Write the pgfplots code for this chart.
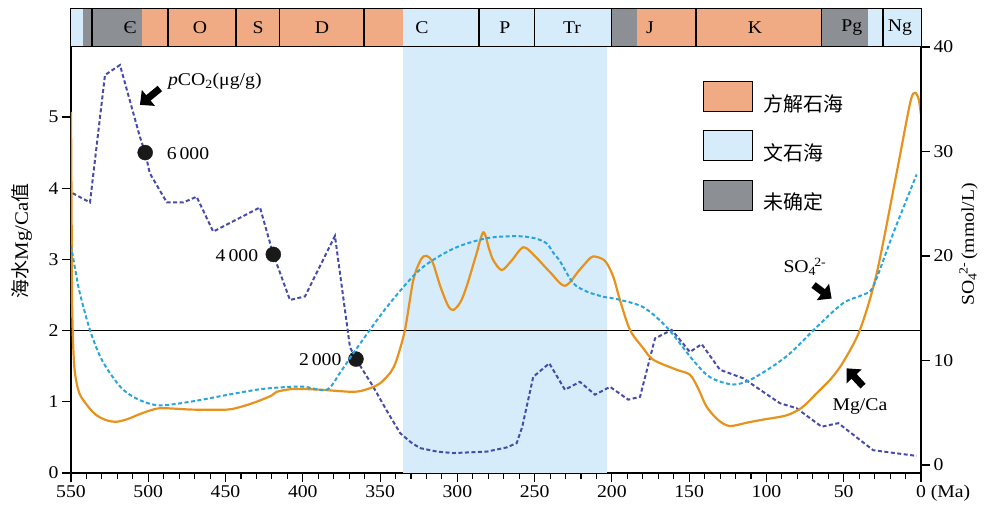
\documentclass[border=0pt]{standalone}
\usepackage{fontspec}
\setmainfont{Liberation Serif}[FakeStretch=1.1]
\newfontfamily\cjk{Noto Sans CJK SC}
\usepackage{pgfplots}
\pgfplotsset{compat=1.18}
\usetikzlibrary{arrows.meta}

\definecolor{calc}{RGB}{240,170,132}
\definecolor{arag}{RGB}{214,236,251}
\definecolor{undet}{RGB}{140,143,147}
\definecolor{mgca}{RGB}{232,146,30}
\definecolor{so4}{RGB}{40,165,220}
\definecolor{pco}{RGB}{72,76,168}
\newcommand{\tf}{\fontsize{18}{20}\selectfont}

\pgfplotsset{boxleg/.style={legend image code/.code={\draw[##1, draw=black, line width=1.2bp] (0bp,-8bp) rectangle (49bp,22bp);}}}

\pgfplotstableread{
t v
550 5.07
549.6 3.6
549.3 2.4
548.5 1.75
547.4 1.40
544.6 1.12
538.8 0.93
533.4 0.81
526.9 0.74
520.4 0.72
513 0.76
507.5 0.81
500 0.87
492.4 0.91
480 0.90
470.9 0.89
449.3 0.89
440 0.93
430 1.00
420 1.09
416.9 1.14
406.2 1.18
388.9 1.17
367.3 1.14
358 1.18
350 1.26
343 1.42
339.3 1.59
333.9 2.01
328.5 2.71
323.5 3.0
319.9 3.05
316 2.96
311 2.62
306 2.35
302.6 2.29
298 2.40
294 2.62
288 3.05
283.2 3.38
279.5 3.15
276.8 2.99
271.3 2.85
265 2.98
257.3 3.17
250 3.05
240 2.82
230.4 2.63
221 2.85
214 3.02
210.9 3.04
206.5 3.01
203.4 2.95
199 2.75
194.8 2.43
188.3 2.01
180 1.76
173.2 1.59
158.1 1.45
149.5 1.38
144 1.18
138.7 0.93
131 0.74
123.6 0.66
112 0.71
102.1 0.75
87 0.81
77 0.92
67.5 1.12
58 1.33
50.3 1.56
39.5 2.01
28.7 2.80
15.8 4.21
7 5.2
3.9 5.34
1.5 5.25
0 5.03
}\mgcadata

\pgfplotstableread{
t s
550 21.0
547 18.5
544.2 16.4
537.7 12.9
531.2 10.4
524.8 8.8
516.2 7.2
505.4 6.2
492.4 5.7
470.9 6.1
449.3 6.7
430 7.2
416.9 7.4
400 7.5
384.6 7.2
376 8.8
367.3 10.7
345.7 15.1
324.2 18.7
302.6 20.7
281 21.7
261.6 21.9
250 21.7
242.2 21.2
237.9 20.3
233.6 19.5
225 17.4
216.3 16.6
205.6 16.1
201.2 16.0
194.8 15.8
179.7 15.1
164.6 13.2
147.3 10.0
136.5 8.4
121.5 7.7
108.5 8.3
87 10.4
67.5 13.2
50.3 15.5
37.4 16.3
30.9 17.1
17.9 22.2
2.8 27.8
}\sodata

\pgfplotstableread{
t v
549 3.93
537.7 3.80
528 5.59
518.3 5.73
505.4 4.72
502 4.50
499 4.21
488 3.80
477.3 3.80
468.7 3.88
458 3.39
427.7 3.73
421.2 3.23
419.1 3.07
408.3 2.43
398.6 2.48
379.2 3.33
369.5 1.77
365.6 1.60
354.4 1.21
345 0.85
337 0.56
330 0.43
324.2 0.35
313 0.30
302.6 0.28
281 0.30
268 0.36
261.6 0.42
258 0.65
250.9 1.35
240.5 1.54
230.4 1.17
220.7 1.28
210.9 1.10
201.2 1.21
189.4 1.03
181.8 1.07
172.1 1.89
161.3 2.01
149.5 1.70
141.9 1.81
130.1 1.45
115 1.33
91.3 0.98
80.5 0.91
64.3 0.65
53.5 0.70
30.9 0.32
2.8 0.24
}\pcodata

\begin{document}
\begin{tikzpicture}
% main axis (left: Mg/Ca)
\begin{axis}[name=main, at={(0,0)}, anchor=south west, scale only axis,
  width=850bp, height=426bp,
  xmin=0, xmax=550, x dir=reverse, ymin=0, ymax=5.983,
  axis x line*=bottom, axis y line*=left,
  axis line style={line width=1.2bp, -},
  xtick={0,50,...,550}, minor x tick num=4, ytick={0,1,...,5},
  xticklabels={0\rlap{\ (Ma)},50,100,150,200,250,300,350,400,450,500,550},
  tick align=outside, major tick length=9bp, minor tick length=6bp,
  tick style={line width=1.1bp, black},
  ticklabel style={font=\tf},
  /pgf/number format/assume math mode=true,
  ylabel={{\cjk 海水}Mg/Ca{\cjk 值}},
  ylabel style={font=\fontsize{19}{21}\selectfont, at={(axis description cs:-0.0576,0.545)}, anchor=center},
  clip mode=individual,
  legend style={at={(0.7435,0.921)}, anchor=north west, draw=none, fill=none,
    inner sep=0pt, row sep=17.6bp, column sep=10bp,
    font=\cjk\fontsize{20}{22}\selectfont, nodes={inner sep=0pt}},
  legend cell align=left,
]
\addplot[fill=arag, draw=none, forget plot] coordinates {(335.2,0) (335.2,5.983) (203.2,5.983) (203.2,0)} -- cycle;
\addplot[black, line width=1.2bp, forget plot] coordinates {(550,2) (0,2)};
\addplot[pco, line width=2bp, dash pattern=on 4bp off 2.5bp, forget plot] table[x=t,y=v] {\pcodata};
\addplot[mgca, line width=2.2bp, smooth, tension=0.5, forget plot] table[x=t,y=v] {\mgcadata};
\addplot[only marks, mark=*, mark size=7.5bp, fill=black!90, draw=black!90, forget plot] coordinates {(502,4.50) (419.1,3.07) (365.6,1.60)};
\addlegendimage{boxleg, fill=calc}
\addlegendentry{方解石海}
\addlegendimage{boxleg, fill=arag}
\addlegendentry{文石海}
\addlegendimage{boxleg, fill=undet}
\addlegendentry{未确定}
\node[anchor=west, font=\tf] at (axis cs:489.5,5.50) {\textit{p}CO\textsubscript{2}(μg/g)};
\node[anchor=west, font=\tf] at (axis cs:490.3,4.49) {6\,000};
\node[anchor=east, font=\tf] at (axis cs:426.6,3.05) {4\,000};
\node[anchor=east, font=\tf] at (axis cs:372.7,1.59) {2\,000};
\node[font=\tf] at (axis cs:75.1,2.90) {SO\textsubscript{4}\kern-0.1em\textsuperscript{2-}};
\node[font=\tf] at (axis cs:39.5,0.93) {Mg/Ca};
\draw[black, line width=7bp, -{Triangle[length=11bp, width=20bp]}] (axis cs:492.5,5.40) -- (axis cs:505.4,5.17);
\draw[black, line width=7bp, -{Triangle[length=11bp, width=20bp]}] (axis cs:69.5,2.64) -- (axis cs:57.8,2.45);
\draw[black, line width=7bp, -{Triangle[length=11bp, width=20bp]}] (axis cs:37.5,1.22) -- (axis cs:48.1,1.47);
\end{axis}

% right axis (SO4)
\begin{axis}[at={(0,0)}, anchor=south west, scale only axis,
  width=850bp, height=426bp,
  xmin=0, xmax=550, x dir=reverse, ymin=-0.766, ymax=40,
  axis x line=none, axis y line*=right,
  axis line style={line width=1.2bp, -},
  ytick={0,10,20,30,40},
  tick align=outside, major tick length=9bp,
  tick style={line width=1.1bp, black},
  ticklabel style={font=\tf},
  /pgf/number format/assume math mode=true,
  ylabel={SO\textsubscript{4}\kern-0.1em\textsuperscript{2-}\,(mmol/L)},
  ylabel style={font=\tf, at={(axis description cs:1.056,0.537)}, anchor=center},
]
\addplot[so4, line width=2bp, dash pattern=on 4bp off 2.5bp, smooth, tension=0.5] table[x=t,y=s] {\sodata};
\end{axis}

% period bar
\begin{axis}[at={(0,427bp)}, anchor=south west, scale only axis,
  width=850bp, height=37bp,
  xmin=0, xmax=550, x dir=reverse, ymin=0, ymax=1,
  xtick=\empty, ytick=\empty, axis line style={line width=1.2bp},
  clip=false]
\addplot[fill=arag, draw=none] coordinates {(550,0) (550,1) (542,1) (542,0)} -- cycle;
\addplot[fill=undet, draw=none] coordinates {(542,0) (542,1) (504,1) (504,0)} -- cycle;
\addplot[fill=calc, draw=none] coordinates {(504,0) (504,1) (335.2,1) (335.2,0)} -- cycle;
\addplot[fill=arag, draw=none] coordinates {(335.2,0) (335.2,1) (200,1) (200,0)} -- cycle;
\addplot[fill=undet, draw=none] coordinates {(200,0) (200,1) (183.8,1) (183.8,0)} -- cycle;
\addplot[fill=calc, draw=none] coordinates {(183.8,0) (183.8,1) (64.1,1) (64.1,0)} -- cycle;
\addplot[fill=undet, draw=none] coordinates {(64.1,0) (64.1,1) (34.3,1) (34.3,0)} -- cycle;
\addplot[fill=arag, draw=none] coordinates {(34.3,0) (34.3,1) (0,1) (0,0)} -- cycle;
\addplot[ycomb, black, line width=1.1bp, mark=none] coordinates {(536.4,1) (487.2,1) (443.2,1) (414.8,1) (360.4,1) (286,1) (249.8,1) (200,1) (145.6,1) (64.1,1) (24.6,1)};
\node[font=\tf] at (axis cs:511.8,0.5) {Є};
\node[font=\tf] at (axis cs:466.5,0.5) {O};
\node[font=\tf] at (axis cs:429,0.5) {S};
\node[font=\tf] at (axis cs:387.6,0.5) {D};
\node[font=\tf] at (axis cs:322.9,0.5) {C};
\node[font=\tf] at (axis cs:269.2,0.5) {P};
\node[font=\tf] at (axis cs:225.8,0.5) {Tr};
\node[font=\tf] at (axis cs:175.4,0.5) {J};
\node[font=\tf] at (axis cs:107.4,0.5) {K};
\node[font=\tf] at (axis cs:44.7,0.5) {Pg};
\node[font=\tf] at (axis cs:13.6,0.5) {Ng};
\end{axis}
\pgfresetboundingbox
\path[use as bounding box] (-71bp,-35bp) rectangle (913bp,473bp);
\end{tikzpicture}
\end{document}
